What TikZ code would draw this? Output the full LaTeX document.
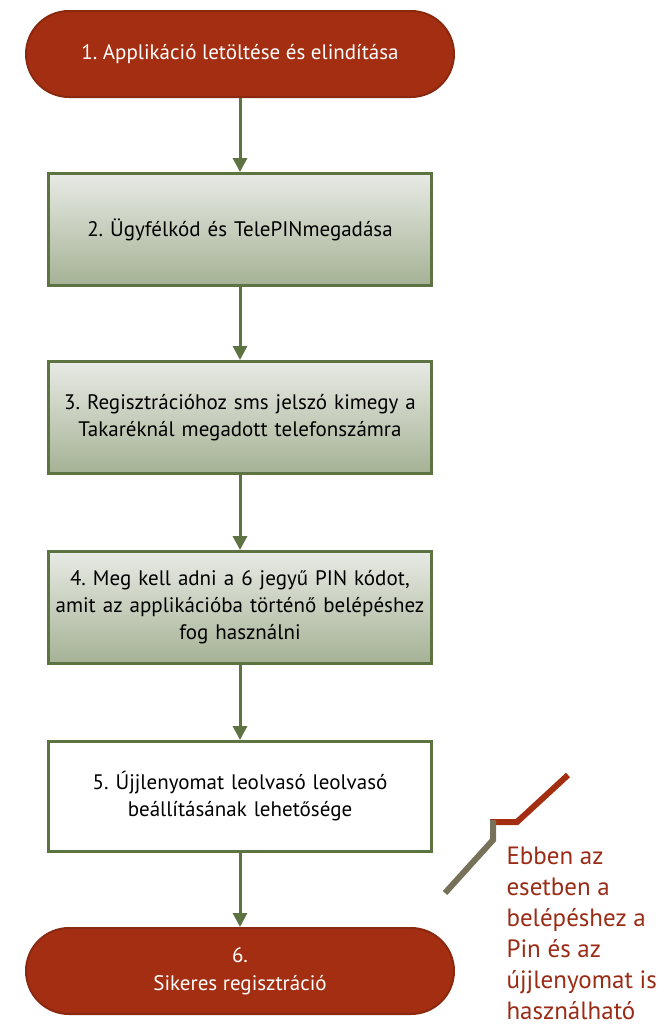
\documentclass[tikz,border=0pt]{standalone}
\usepackage{fontspec}
\setmainfont{PT Sans}
\frenchspacing
\usetikzlibrary{arrows.meta,positioning}

\definecolor{brick}{HTML}{A42E11}
\definecolor{brickline}{HTML}{8B2910}
\definecolor{leaf}{HTML}{5E7342}
\definecolor{sagetop}{HTML}{E8EAE5}
\definecolor{sagebot}{HTML}{A5B294}
\definecolor{notered}{HTML}{9A2B15}
\definecolor{olive}{HTML}{78715A}

\begin{document}
\begin{tikzpicture}[x=1pt, y=-1pt,
  terminal/.style={draw=brickline, line width=2pt, fill=brick, rounded corners=43pt,
    minimum width=428pt, minimum height=86pt, align=center, text=white,
    font=\fontsize{21}{28}\selectfont},
  stepbox/.style={draw=leaf, line width=3pt, top color=sagetop, bottom color=sagebot,
    minimum width=377pt, minimum height=112pt, text width=376pt, align=center,
    font=\fontsize{21}{27}\selectfont},
  plainbox/.style={stepbox, top color=white, bottom color=white, minimum height=110pt},
  arr/.style={-{Triangle[width=14pt,length=14pt]}, draw=leaf, line width=3pt},
  note/.style={align=left, text=notered, font=\fontsize{25}{31}\selectfont}
]
\useasboundingbox (0,0) rectangle (665,1026);

\node[terminal] (start) at (240,54) {1. Applikáció letöltése és elindítása};
\node[stepbox, below=74pt of start] (ugyfel) {2. Ügyfélkód és TelePINmegadása};
\node[stepbox, below=73pt of ugyfel] (sms) {3. Regisztrációhoz sms jelszó kimegy a\\Takaréknál megadott telefonszámra};
\node[stepbox, below=75pt of sms] (pin) {4. Meg kell adni a 6 jegyű PIN kódot,\\amit az applikációba történő belépéshez\\fog használni};
\node[plainbox, below=75pt of pin] (ujj) {5. Újjlenyomat leolvasó leolvasó\\beállításának lehetősége};
\node[terminal, below=74pt of ujj] (kesz) {6.\\Sikeres regisztráció};

\draw[arr] (start) -- (ugyfel);
\draw[arr] (ugyfel) -- (sms);
\draw[arr] (sms) -- (pin);
\draw[arr] (pin) -- (ujj);
\draw[arr] (ujj) -- (kesz);

% callout
\draw[brick, line width=6pt, line join=miter] (568,775) -- (517,822) -- (490,822);
\draw[olive, line width=6pt, line join=miter] (493,820) -- (493,840) -- (445,893);
\node[note, anchor=north west] (megj) at (503,843)
  {Ebben az\\esetben a\\belépéshez a\\Pin és az\\újjlenyomat is\\használható};

\end{tikzpicture}
\end{document}
